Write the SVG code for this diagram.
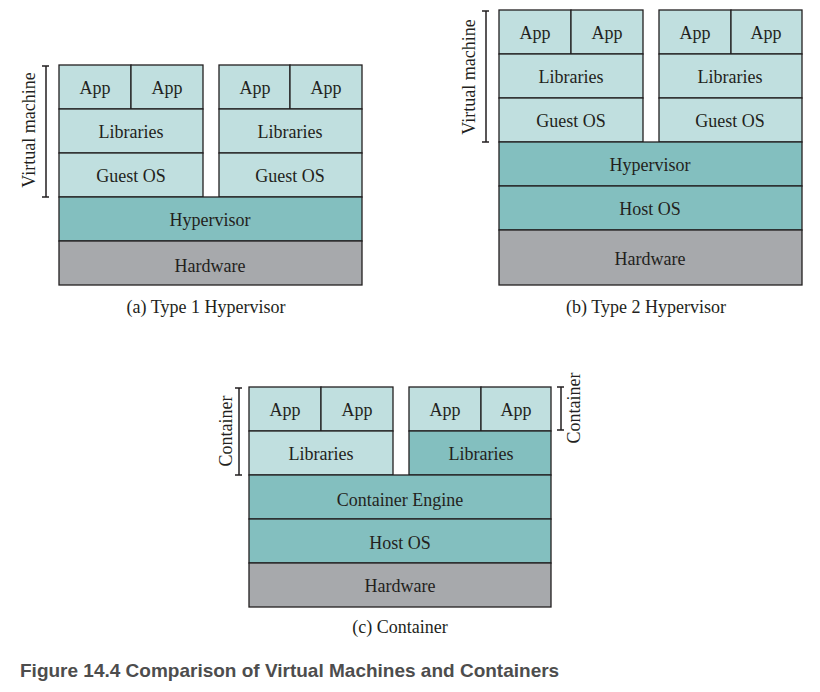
<svg xmlns="http://www.w3.org/2000/svg" width="820" height="692" viewBox="0 0 820 692">
<style>
.l{fill:#c0dfdf;stroke:#231f20;stroke-width:1.3}
.d{fill:#83bfbf;stroke:#231f20;stroke-width:1.3}
.g{fill:#a7a9ac;stroke:#231f20;stroke-width:1.3}
.t{font-family:"Liberation Serif","Times New Roman",serif;font-size:18px;fill:#231f20;text-anchor:middle}
.br{stroke:#231f20;stroke-width:1.5;fill:none}
.cap{font-family:"Liberation Sans",Arial,sans-serif;font-size:19px;font-weight:bold;fill:#4d4d4d}
</style>
<rect width="820" height="692" fill="#fff"/>
<!-- (a) Type 1 -->
<g id="a-vm1">
<rect class="l" x="59" y="65" width="72" height="44"/><rect class="l" x="131" y="65" width="72" height="44"/>
<rect class="l" x="59" y="109" width="144" height="44"/><rect class="l" x="59" y="153" width="144" height="44"/>
<text class="t" x="95" y="94">App</text><text class="t" x="167" y="94">App</text>
<text class="t" x="131" y="138">Libraries</text><text class="t" x="131" y="182">Guest OS</text>
</g>
<g id="a-vm2">
<rect class="l" x="219" y="65" width="71" height="44"/><rect class="l" x="290" y="65" width="72" height="44"/>
<rect class="l" x="219" y="109" width="143" height="44"/><rect class="l" x="219" y="153" width="143" height="44"/>
<text class="t" x="255" y="94">App</text><text class="t" x="326" y="94">App</text>
<text class="t" x="290" y="138">Libraries</text><text class="t" x="290" y="182">Guest OS</text>
</g>
<g id="a-hyp"><rect class="d" x="59" y="197" width="303" height="44"/><text class="t" x="210" y="226">Hypervisor</text></g>
<g id="a-hw"><rect class="g" x="59" y="241" width="303" height="44"/><text class="t" x="210" y="272">Hardware</text></g>
<g id="a-bracket"><path class="br" d="M42 66H49M46 66V197M42 197H49"/>
<text class="t" transform="translate(35 130) rotate(-90)">Virtual machine</text></g>
<text class="t" x="206" y="313">(a) Type 1 Hypervisor</text>
<!-- (b) Type 2 -->
<g id="b-vm1">
<rect class="l" x="499" y="10" width="72" height="44"/><rect class="l" x="571" y="10" width="72" height="44"/>
<rect class="l" x="499" y="54" width="144" height="44"/><rect class="l" x="499" y="98" width="144" height="44"/>
<text class="t" x="535" y="39">App</text><text class="t" x="607" y="39">App</text>
<text class="t" x="571" y="83">Libraries</text><text class="t" x="571" y="127">Guest OS</text>
</g>
<g id="b-vm2">
<rect class="l" x="659" y="10" width="72" height="44"/><rect class="l" x="731" y="10" width="71" height="44"/>
<rect class="l" x="659" y="54" width="143" height="44"/><rect class="l" x="659" y="98" width="143" height="44"/>
<text class="t" x="695" y="39">App</text><text class="t" x="766" y="39">App</text>
<text class="t" x="730" y="83">Libraries</text><text class="t" x="730" y="127">Guest OS</text>
</g>
<g id="b-hyp"><rect class="d" x="499" y="142" width="303" height="44"/><text class="t" x="650" y="171">Hypervisor</text></g>
<g id="b-host"><rect class="d" x="499" y="186" width="303" height="44"/><text class="t" x="650" y="215">Host OS</text></g>
<g id="b-hw"><rect class="g" x="499" y="230" width="303" height="55"/><text class="t" x="650" y="265">Hardware</text></g>
<g id="b-bracket"><path class="br" d="M482 11H489M486 11V142M482 142H489"/>
<text class="t" transform="translate(475 77) rotate(-90)">Virtual machine</text></g>
<text class="t" x="646" y="313">(b) Type 2 Hypervisor</text>
<!-- (c) Container -->
<g id="c-c1">
<rect class="l" x="249" y="387" width="72" height="44"/><rect class="l" x="321" y="387" width="72" height="44"/>
<rect class="l" x="249" y="431" width="144" height="44"/>
<text class="t" x="285" y="416">App</text><text class="t" x="357" y="416">App</text>
<text class="t" x="321" y="460">Libraries</text>
</g>
<g id="c-c2">
<rect class="l" x="409" y="387" width="72" height="44"/><rect class="l" x="481" y="387" width="70" height="44"/>
<rect class="d" x="409" y="431" width="142" height="44"/>
<text class="t" x="445" y="416">App</text><text class="t" x="516" y="416">App</text>
<text class="t" x="481" y="460">Libraries</text>
</g>
<g id="c-engine"><rect class="d" x="249" y="475" width="302" height="44"/><text class="t" x="400" y="506">Container Engine</text></g>
<g id="c-host"><rect class="d" x="249" y="519" width="302" height="44"/><text class="t" x="400" y="549">Host OS</text></g>
<g id="c-hw"><rect class="g" x="249" y="563" width="302" height="44"/><text class="t" x="400" y="592">Hardware</text></g>
<g id="c-bracket1"><path class="br" d="M235 388H242M239 388V475M235 475H242"/>
<text class="t" transform="translate(232 431) rotate(-90)">Container</text></g>
<g id="c-bracket2"><path class="br" d="M557 387H564M561 387V430M557 430H564"/>
<text class="t" transform="translate(580 408) rotate(-90)">Container</text></g>
<text class="t" x="400" y="633">(c) Container</text>
<text class="cap" x="20" y="677">Figure 14.4 Comparison of Virtual Machines and Containers</text>
</svg>
